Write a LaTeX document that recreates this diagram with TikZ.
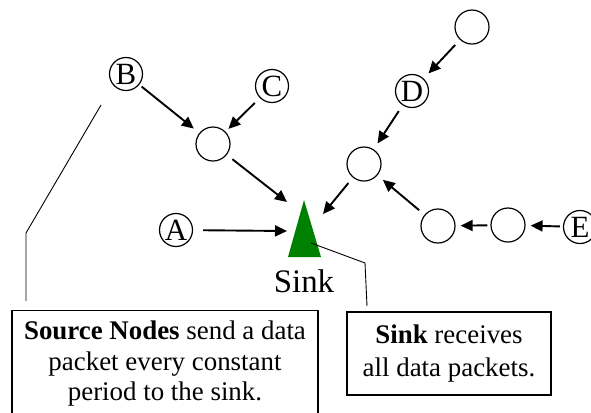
\documentclass[tikz,border=0pt]{standalone}
\usepackage{fontspec}
\setmainfont{Liberation Serif}
\usepackage{xcolor}
\usepackage{tikz}
\usetikzlibrary{arrows.meta}
\definecolor{sinkgreen}{RGB}{0,128,0}

\begin{document}
\begin{tikzpicture}[
  x=1bp, y=-1bp,
  src/.style={draw, circle, line width=1.2bp, minimum size=33bp, inner sep=0pt, font=\fontsize{31}{31}\selectfont},
  hop/.style={draw, circle, line width=1.2bp, minimum size=34bp, inner sep=0pt},
  note/.style={draw, line width=1.1bp, align=center, inner sep=0pt, font=\fontsize{27}{31}\selectfont},
  arr/.style={-{Triangle[length=12bp,width=11bp]}, line width=1.9bp, shorten <=7bp, shorten >=7bp},
  harr/.style={arr, shorten <=3bp, shorten >=5bp},
  lead/.style={line width=0.9bp}
]
  \useasboundingbox (0,0) rectangle (591,412);
  \clip (0,0) rectangle (591,412);

  % sources and relays
  \node[src] (a) at (176,230) {A};
  \node[src] (b) at (126,74) {B};
  \node[src] (c) at (272,86) {C};
  \node[src] (d) at (412,91) {D};
  \node[src] (e) at (580,227) {E};
  \node[hop] (hop1) at (213,144) {};
  \node[hop] (hop2) at (364,164) {};
  \node[hop] (hop3) at (438,226) {};
  \node[hop] (hop4) at (508,225) {};
  \node[hop] (hoptop) at (472,27) {};

  % sink
  \fill[sinkgreen] (304,200) -- (321,257) -- (288,257) -- cycle;
  \coordinate (sinknw) at (287,202);
  \coordinate (sinkw) at (287,231);
  \coordinate (sinkne) at (323,214);
  \node[anchor=base, font=\fontsize{33}{33}\selectfont] (sinklabel) at (304,292) {Sink};

  \draw[arr, shorten <=3bp] (b) -- (hop1);
  \draw[arr, shorten >=4bp] (c) -- (hop1);
  \draw[arr, shorten >=0bp] (hop1) -- (sinknw);
  \draw[arr, shorten <=10bp, shorten >=0bp] (a) -- (sinkw);
  \draw[arr] (hoptop) -- (d);
  \draw[arr] (d) -- (hop2);
  \draw[arr, shorten >=0bp] (hop2) -- (sinkne);
  \draw[arr] (hop3) -- (hop2);
  \draw[harr] (hop4) -- (hop3);
  \draw[harr] (e) -- (hop4);

  % notes
  \node[note, anchor=north, minimum width=306bp, inner ysep=10bp] (srcnote) at (165,310)
    {\textbf{Source Nodes} send a data\\packet every constant\\period to the sink.};
  \node[note, minimum width=204bp, minimum height=83bp, font=\fontsize{27}{33}\selectfont] (sinknote) at (449,353.5)
    {\textbf{Sink} receives\\all data packets.};

  \coordinate (srcfrom) at (101,105);
  \coordinate (srcbend) at (26,233);
  \coordinate (srcto) at (26,301);
  \draw[lead] (srcfrom) -- (srcbend) -- (srcto);
  \coordinate (sinkfrom) at (311,243);
  \coordinate (sinkbend) at (365,263);
  \coordinate (sinkto) at (367,306);
  \draw[lead] (sinkfrom) -- (sinkbend) -- (sinkto);
\end{tikzpicture}
\end{document}
